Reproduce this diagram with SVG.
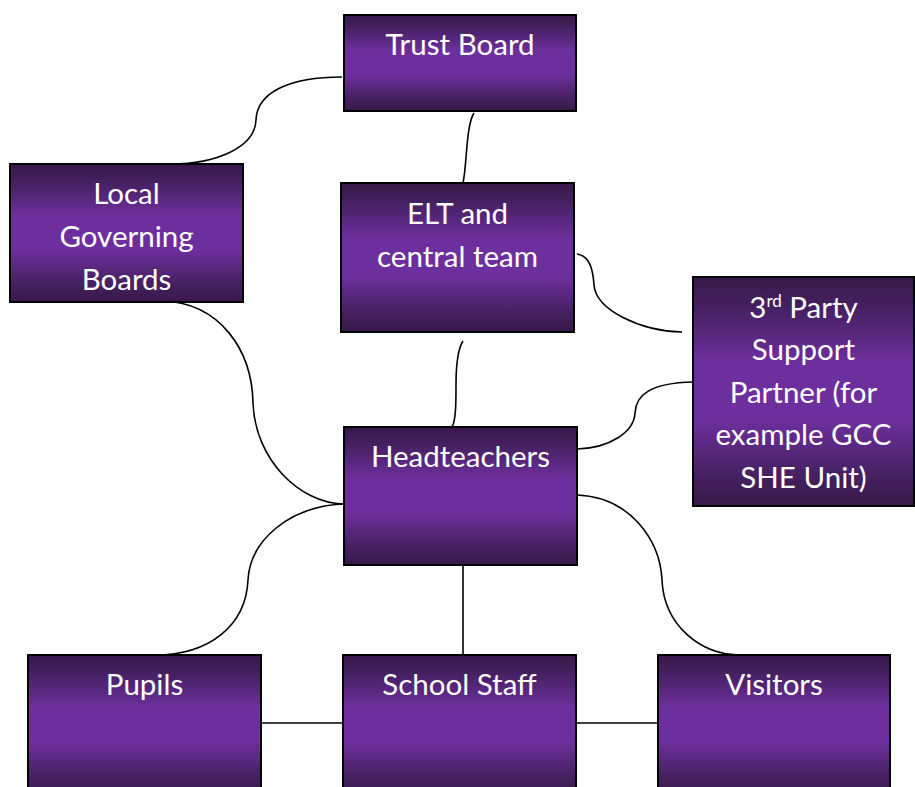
<svg xmlns="http://www.w3.org/2000/svg" width="915" height="787" viewBox="0 0 915 787">
<defs>
<linearGradient id="g" x1="0" y1="0" x2="0" y2="1">
<stop offset="0" stop-color="#381849"/>
<stop offset="0.12" stop-color="#43205e"/>
<stop offset="0.38" stop-color="#6e2f9e"/>
<stop offset="0.62" stop-color="#6e2f9e"/>
<stop offset="0.88" stop-color="#43205e"/>
<stop offset="1" stop-color="#381849"/>
</linearGradient>
<style>
.box{fill:url(#g);stroke:#000;stroke-width:2}
.t{font-family:Lato,"Open Sans","Liberation Sans",sans-serif;font-size:29.5px;fill:#fff;text-anchor:middle}
.c path{fill:none;stroke:#000;stroke-width:1.6}
</style>
</defs>
<rect width="915" height="787" fill="#fff"/>
<g class="c" id="connectors">
<path d="M342,77 C290,77 257,92 256,120 C255,148 215,164 171,164"/>
<path d="M474,113 C466,125 467,165 463,183"/>
<path d="M163,301 C220,303 252,350 253,403 C255,460 300,503 343,504"/>
<path d="M577,254 C590,256 593,270 594,285 C596,310 640,331 682,332"/>
<path d="M463,341 C456,352 456,375 456,385 C456,402 456,420 452,427"/>
<path d="M693,382 C650,383 636,395 635,413 C634,432 610,448 577,449"/>
<path d="M344,504 C290,506 250,540 248,580 C246,625 210,655 155,655"/>
<path d="M577,495 C630,497 660,540 662,580 C664,625 700,655 741,655"/>
<path d="M463,565 L463,655"/>
<path d="M261,723 L343,723"/>
<path d="M576,723 L658,723"/>
</g>
<g id="trust-board"><rect class="box" x="344" y="15" width="232" height="96"/><text class="t" x="460" y="55">Trust Board</text></g>
<g id="local-governing-boards"><rect class="box" x="10" y="164" width="233" height="138"/><text class="t" x="126.5" y="204">Local</text><text class="t" x="126.5" y="247">Governing</text><text class="t" x="126.5" y="290">Boards</text></g>
<g id="elt"><rect class="box" x="341" y="183" width="233" height="149"/><text class="t" x="457.5" y="224">ELT and</text><text class="t" x="457.5" y="267">central team</text></g>
<g id="third-party"><rect class="box" x="693" y="277" width="221" height="229"/><text class="t" x="803.5" y="318">3<tspan font-size="17" dy="-11">rd</tspan><tspan dy="11"> Party</tspan></text><text class="t" x="803.5" y="360">Support</text><text class="t" x="803.5" y="403">Partner (for</text><text class="t" x="803.5" y="445">example GCC</text><text class="t" x="803.5" y="488">SHE Unit)</text></g>
<g id="headteachers"><rect class="box" x="344" y="427" width="233" height="138"/><text class="t" x="460.5" y="467">Headteachers</text></g>
<g id="pupils"><rect class="box" x="28" y="655" width="233" height="140"/><text class="t" x="144.5" y="695">Pupils</text></g>
<g id="school-staff"><rect class="box" x="343" y="655" width="233" height="140"/><text class="t" x="459.5" y="695">School Staff</text></g>
<g id="visitors"><rect class="box" x="658" y="655" width="232" height="140"/><text class="t" x="774" y="695">Visitors</text></g>
</svg>
